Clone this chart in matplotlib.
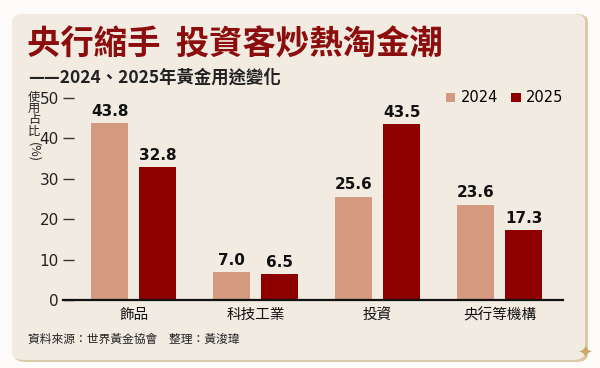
import numpy as np
import matplotlib.pyplot as plt
from matplotlib.patches import FancyBboxPatch

plt.rcParams['font.family'] = ['Noto Sans CJK TC', 'DejaVu Sans']

# ===========================
# Data
# ===========================
categories = ["飾品", "科技工業", "投資", "央行等機構"]
share_2024 = [43.8, 7.0, 25.6, 23.6]
share_2025 = [32.8, 6.5, 43.5, 17.3]
years = ["2024", "2025"]
yticks = [0, 10, 20, 30, 40, 50]

c24 = "#d49a80"
c25 = "#8e0000"
title_col = "#8b0d0d"
panel_col = "#f1ebe1"
num_font = ['DejaVu Sans', 'Noto Sans CJK TC']

fig = plt.figure(figsize=(6, 3.68), dpi=100)
fig.patch.set_facecolor("#fdfcfa")

# background panel with a little shadow
shadow = FancyBboxPatch((14 / 600, 6 / 368), 574 / 600, 348 / 368,
                        boxstyle="round,pad=0,rounding_size=0.02",
                        transform=fig.transFigure, facecolor="#d9c9a6",
                        edgecolor="none", zorder=-2)
panel = FancyBboxPatch((12 / 600, 8 / 368), 573 / 600, 346 / 368,
                       boxstyle="round,pad=0,rounding_size=0.02",
                       transform=fig.transFigure, facecolor=panel_col,
                       edgecolor="none", zorder=-1)
fig.patches.extend([shadow, panel])
fig.text(585 / 600, 1 - 354 / 368, "✦", color="#c9a96a", fontsize=13,
         ha="center", va="center", family=['DejaVu Sans'])

# titles
fig.text(27 / 600, 1 - 45 / 368, "央行縮手  投資客炒熱淘金潮", color=title_col,
         fontsize=24, fontweight="black", ha="left", va="center")
fig.text(28 / 600, 1 - 78 / 368, "——2024、2025年黃金用途變化", color="#222222",
         fontsize=12.5, fontweight="bold", ha="left", va="center")

# ===========================
# Bars
# ===========================
ax = fig.add_axes([63 / 600, 1 - 300 / 368, 500 / 600, 202 / 368])
ax.set_facecolor("none")
x = np.arange(len(categories))
w = 0.30
off = 0.197
b1 = ax.bar(x - off, share_2024, w, color=c24, label=years[0], zorder=2)
b2 = ax.bar(x + off, share_2025, w, color=c25, label=years[1], zorder=2)

for bars in (b1, b2):
    for r in bars:
        ax.annotate(f"{r.get_height():.1f}", (r.get_x() + r.get_width() / 2, r.get_height()),
                    xytext=(0, 3), textcoords="offset points", ha="center", va="bottom",
                    fontsize=11, fontweight="bold", family=num_font,
                    color="#111111", annotation_clip=False)

ax.set_xlim(-0.58, 3.52)
ax.set_ylim(0, 50)
ax.set_yticks(yticks)
ax.set_yticklabels([str(t) for t in yticks], family=num_font, fontsize=11, color="#222222")
ax.tick_params(axis="y", direction="in", length=8, width=1, color="#333333", pad=3)
ax.set_xticks(x)
ax.set_xticklabels(categories, fontsize=10.5, color="#111111")
ax.tick_params(axis="x", length=0, pad=6)
for s in ["top", "right", "left"]:
    ax.spines[s].set_visible(False)
ax.spines["bottom"].set_linewidth(1.6)
ax.spines["bottom"].set_color("#111111")

# vertical y label
for i, ch in enumerate("使用占比"):
    fig.text(34 / 600, 1 - (97 + i * 11.5) / 368, ch, fontsize=8.8, ha="center",
             va="center", color="#222222")
fig.text(34 / 600, 1 - 152 / 368, "(%)", fontsize=9, rotation=-90, ha="center",
         va="center", color="#222222")

# legend
ax.legend(loc="center right", bbox_to_anchor=(1.0, 1.0), ncol=2, frameon=False,
          borderaxespad=0, borderpad=0,
          handlelength=0.65, handleheight=0.65, handletextpad=0.35, columnspacing=0.9,
          prop={"family": num_font, "size": 10.5})

# source
fig.text(28 / 600, 1 - 339 / 368, "資料來源：世界黃金協會　整理：黃浚瑋", fontsize=8.5,
         ha="left", va="center", color="#222222")

plt.savefig("out.png", dpi=100, facecolor=fig.get_facecolor())
